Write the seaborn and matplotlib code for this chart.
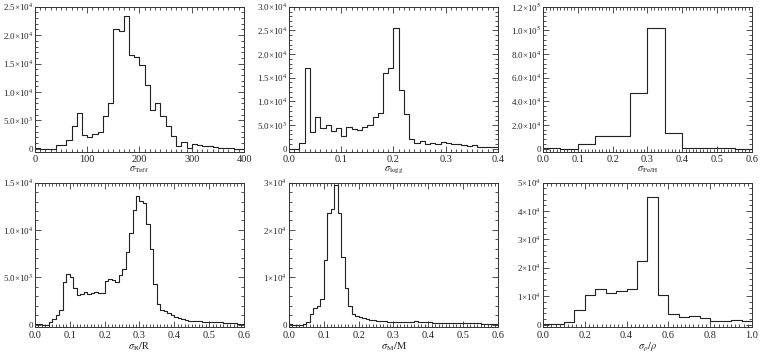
import numpy as np
import pandas as pd
import matplotlib
matplotlib.use("Agg")
import matplotlib.pyplot as plt
from matplotlib.ticker import AutoMinorLocator, FixedLocator, FuncFormatter
import seaborn as sns

# bin counts
teff_edges = np.arange(0, 401, 10)
teff_counts = [200, 0, 0, 0, 600, 600, 1450, 3950, 6260, 2380,
               2090, 2670, 2960, 5680, 8120, 21170, 20770, 23320, 16420, 16130,
               14680, 11140, 6850, 8120, 5680, 3950, 2200, 460, 1160, 170,
               750, 700, 460, 460, 290, 100, 100, 100, 0, 0]

logg_edges = np.linspace(0, 0.4, 41)
logg_counts = [0, 0, 1220, 16970, 3600, 6790, 4410, 5090, 3730, 4280,
               2720, 4620, 4070, 3940, 4620, 5090, 6650, 7470, 16090, 17110,
               25530, 12360, 7330, 1970, 1220, 1700, 1020, 1290, 1020, 1490,
               1220, 950, 950, 750, 480, 680, 410, 270, 270, 270]

feh_edges = np.linspace(0, 0.6, 13)
feh_counts = [300, 0, 4070, 10400, 10400, 47200, 102300, 13000, 800, 300, 200, 150]

r_edges = np.linspace(0, 0.6, 61)
r_counts = [100, 50, 0, 0, 280, 620, 970, 1560, 4540, 5370,
            5020, 3850, 3120, 3220, 3390, 3220, 3290, 3390, 3360, 3330,
            4610, 4850, 4750, 4500, 5200, 5920, 7720, 9630, 12160, 13540,
            13090, 12820, 10670, 7970, 4260, 2180, 1560, 1420, 1210, 1000,
            800, 660, 550, 480, 420, 380, 360, 340, 320, 300,
            280, 260, 240, 220, 200, 190, 180, 170, 100, 100]

m_edges = np.linspace(0, 0.6, 61)
m_counts = [150, 0, 0, 0, 200, 570, 2200, 3550, 3970, 5320,
            13550, 23620, 24330, 29500, 23480, 14260, 7800, 3970, 2200, 1770,
            1560, 1350, 1130, 1060, 990, 850, 780, 700, 640, 570,
            500, 500, 550, 600, 550, 600, 650, 600, 550, 500,
            450, 400, 350, 350, 300, 300, 300, 350, 320, 300,
            280, 250, 230, 220, 220, 200, 200, 180, 170, 160]

rho_edges = np.linspace(0, 1.0, 21)
rho_counts = [100, 230, 920, 4970, 10510, 12470, 11090, 11660, 12470, 22520,
              44800, 10390, 3580, 2660, 3120, 2420, 1270, 1270, 1730, 1270]

xlabels = [r"$\sigma_{\rm Teff}$", r"$\sigma_{\rm logg}$", r"$\sigma_{\rm Fe/H}$",
           r"$\sigma_{\rm R}/{\rm R}$", r"$\sigma_{\rm M}/{\rm M}$", r"$\sigma_{\rho}/\rho$"]
xmax = [400, 0.4, 0.6, 0.6, 0.6, 1.0]
xstep = [100, 0.1, 0.1, 0.1, 0.1, 0.2]
ymax = [25000, 30000, 120000, 15000, 30000, 50000]
ystep = [5000, 5000, 20000, 5000, 10000, 10000]
ydigits = [1, 1, 1, 1, 0, 0]


def sci_label(v, digits):
    if v == 0:
        return "0"
    e = int(np.floor(np.log10(v)))
    m = v / 10 ** e
    return "%.*f×10$^{%d}$" % (digits, m, e)


sns.set_style("ticks")
plt.rcParams["font.family"] = ["Liberation Serif", "DejaVu Serif"]
plt.rcParams["mathtext.fontset"] = "stix"

fig, axes = plt.subplots(2, 3, figsize=(7.6, 3.57), dpi=100)
fig.subplots_adjust(left=0.046, right=0.9895, top=0.981, bottom=0.083,
                    wspace=0.215, hspace=0.215)

panels = [(teff_edges, teff_counts), (logg_edges, logg_counts), (feh_edges, feh_counts),
          (r_edges, r_counts), (m_edges, m_counts), (rho_edges, rho_counts)]

for i, (ax, (edges, counts)) in enumerate(zip(axes.flat, panels)):
    edges = [float(e) for e in edges]
    centers = [0.5 * (a + b) for a, b in zip(edges[:-1], edges[1:])]
    df = pd.DataFrame({"x": centers, "n": counts})
    sns.histplot(data=df, x="x", weights="n", bins=edges, element="step",
                 fill=False, color="#222222", linewidth=0.8, ax=ax)
    ax.set_xlim(0, xmax[i])
    ax.set_ylim(-0.02 * ymax[i], ymax[i])
    ax.xaxis.set_major_locator(FixedLocator(np.arange(0, xmax[i] + 1e-9, xstep[i])))
    yt = np.arange(0, ymax[i] + 1, ystep[i])
    ax.yaxis.set_major_locator(FixedLocator(yt))
    d = ydigits[i]
    ax.yaxis.set_major_formatter(FuncFormatter(lambda v, p, d=d: sci_label(v, d)))
    if i == 0:
        ax.xaxis.set_major_formatter(FuncFormatter(lambda v, p: "%d" % v))
    else:
        ax.xaxis.set_major_formatter(FuncFormatter(lambda v, p: "%.1f" % v))
    ax.xaxis.set_minor_locator(AutoMinorLocator(10))
    ax.yaxis.set_minor_locator(AutoMinorLocator(5))
    ax.tick_params(which="both", direction="in", top=True, right=True,
                   width=0.6, color="#333333")
    ax.tick_params(axis="y", pad=1.2, labelsize=6.5)
    ax.tick_params(axis="x", pad=2.5, labelsize=7.5)
    ax.tick_params(which="major", length=4)
    ax.tick_params(which="minor", length=2)
    for s in ax.spines.values():
        s.set_linewidth(0.7)
        s.set_color("#333333")
    ax.set_xlabel(xlabels[i], fontsize=7.5, labelpad=0.5)
    ax.set_ylabel("")

fig.savefig("out.png", dpi=100)
